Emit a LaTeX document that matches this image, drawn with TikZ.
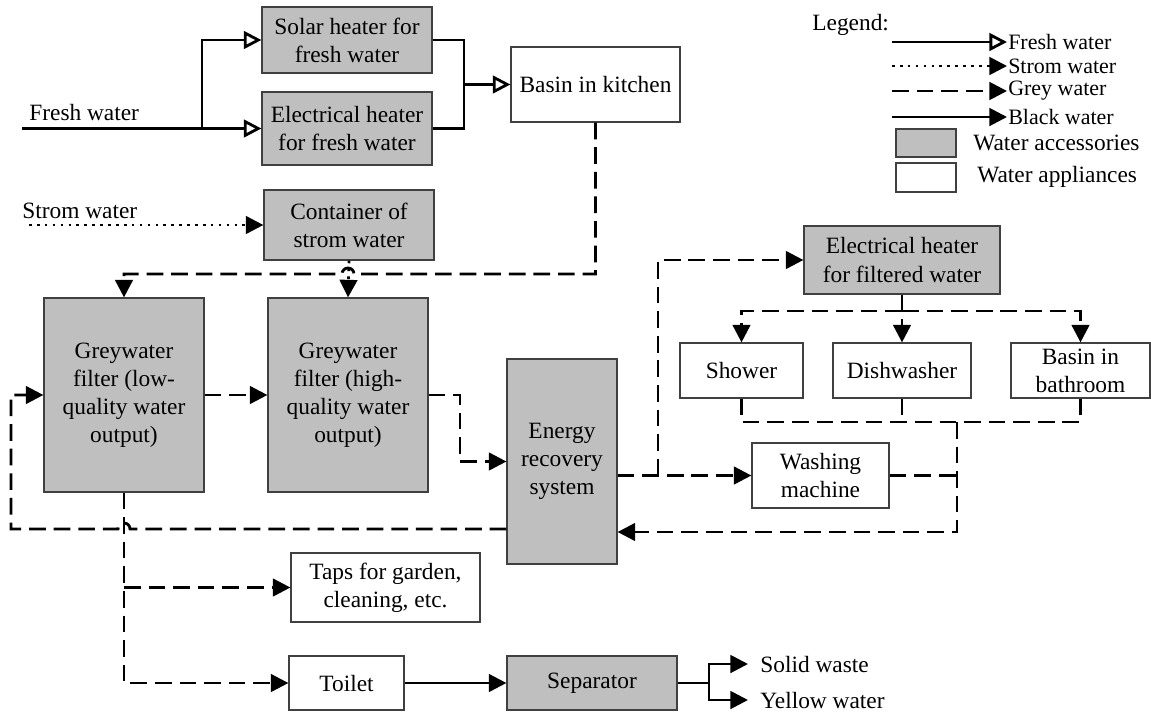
\documentclass[tikz,border=0pt]{standalone}
\usepackage{fontspec}
\setmainfont{Liberation Serif}
\usetikzlibrary{arrows.meta}

\tikzset{
    accessory/.style={draw=black!75, line width=0.7pt, fill=black!25, inner sep=0pt, align=center},
    appliance/.style={draw=black!75, line width=0.7pt, fill=white, inner sep=0pt, align=center},
    pipe/.style={line width=1.6pt},
    freshline/.style={pipe, -{Triangle[open, length=10pt, width=10pt]}},
    stormline/.style={pipe, dash pattern=on 1.5pt off 3pt, -{Triangle[length=10pt, width=10pt]}},
    greypipe/.style={pipe, dash pattern=on 9.5pt off 4.5pt},
    greyline/.style={greypipe, -{Triangle[length=10pt, width=10pt]}},
    blackpipe/.style={pipe},
    blackline/.style={pipe, -{Triangle[length=10pt, width=10pt]}},
    legendtext/.style={anchor=west, inner xsep=0.5pt, inner ysep=0pt, font=\fontsize{12.5}{14}\selectfont}
}

\begin{document}
\begin{tikzpicture}[x=0.02cm, y=-0.02cm, every node/.style={font=\fontsize{13.3}{16}\selectfont}]
    \useasboundingbox (0,0) rectangle (1151,714);

    % fresh water part
    \node[accessory, minimum width=3.4cm, minimum height=1.32cm] (solar) at (347,40) {Solar heater for\\fresh water};
    \node[accessory, minimum width=3.4cm, minimum height=1.46cm] (freshheater) at (347,128.5) {Electrical heater\\for fresh water};
    \node[appliance, minimum width=3.38cm, minimum height=1.5cm] (kitchen) at (595.5,84.5) {Basin in kitchen};
    \node[anchor=base west, inner sep=0pt] (freshlabel) at (29,120) {Fresh water};
    \coordinate (freshin) at (22,128.5);
    \coordinate (split) at (202,128.5);
    \coordinate (joinfresh) at (464,84.5);
    \draw[freshline] (freshin) -- (freshheater.west);
    \draw[freshline] (split) |- (solar.west);
    \draw[blackpipe] (solar.east) -| (joinfresh) |- (freshheater.east);
    \draw[freshline] (joinfresh) -- (kitchen.west);

    % storm water
    \node[accessory, minimum width=3.4cm, minimum height=1.4cm] (container) at (349,225) {Container of\\strom water};
    \node[anchor=base west, inner sep=0pt] (stormlabel) at (22,218) {Strom water};
    \coordinate (stormin) at (29,225);
    \draw[stormline] (stormin) -- (container.west);

    % filters and energy recovery
    \node[accessory, minimum width=3.2cm, minimum height=3.88cm] (filterlow) at (124,395) {Greywater\\filter (low-\\quality water\\output)};
    \node[accessory, minimum width=3.2cm, minimum height=3.88cm] (filterhigh) at (348,395) {Greywater\\filter (high-\\quality water\\output)};
    \node[accessory, minimum width=2.2cm, minimum height=4.1cm] (energy) at (562,461.5) {Energy\\recovery\\system};
    \draw[stormline] (container.south) -- (filterhigh.north);
    \draw[greyline] (kitchen.south) |- (354,274) arc[start angle=0, end angle=180, radius=0.12cm] -| (filterlow.north);
    \draw[greyline] (filterlow.east) -- (filterhigh.west);
    \draw[greyline] (filterhigh.east) -- (460,395) |- (energy.west);
    \draw[greyline] (energy.west |- 0,529) -- (130,529) arc[start angle=0, end angle=180, radius=0.12cm] -- (11,529) |- (filterlow.west);

    % appliances on the right
    \node[accessory, minimum width=3.92cm, minimum height=1.36cm] (filteredheater) at (902,260) {Electrical heater\\for filtered water};
    \node[appliance, minimum width=2.46cm, minimum height=1.1cm] (shower) at (741.5,370.5) {Shower};
    \node[appliance, minimum width=2.76cm, minimum height=1.1cm] (dishwasher) at (902,370.5) {Dishwasher};
    \node[appliance, minimum width=2.78cm, minimum height=1.1cm] (bathbasin) at (1080.5,370.5) {Basin in\\bathroom};
    \node[appliance, minimum width=2.74cm, minimum height=1.3cm] (washing) at (820.5,475.5) {Washing\\machine};
    \coordinate (toheater) at (658,475.5);
    \coordinate (collect) at (957,422);
    \draw[greyline] (energy.east |- washing.west) -- (washing.west);
    \draw[greyline] (toheater) |- (filteredheater.west);
    \draw[greyline] (filteredheater.south) -- (dishwasher.north);
    \draw[greyline] (dishwasher.north |- 0,311) -| (shower.north);
    \draw[greyline] (dishwasher.north |- 0,311) -| (bathbasin.north);
    \draw[greypipe] (shower.south) |- (bathbasin.south |- 0,422) -- (bathbasin.south);
    \draw[greypipe] (dishwasher.south) -- (dishwasher.south |- 0,422);
    \draw[greypipe] (washing.east) -- (washing.east -| collect);
    \draw[greyline] (collect) |- (energy.east |- 0,532);

    % taps, toilet and separator
    \node[appliance, minimum width=3.78cm, minimum height=1.38cm] (taps) at (385.5,587.5) {Taps for garden,\\cleaning, etc.};
    \node[appliance, minimum width=2.3cm, minimum height=1.08cm] (toilet) at (346.5,683) {Toilet};
    \node[accessory, minimum width=3.4cm, minimum height=1.08cm] (separator) at (592,683) {Separator};
    \node[anchor=west, inner xsep=0.24cm, inner ysep=0pt] (solid) at (748,664) {Solid waste};
    \node[anchor=west, inner xsep=0.24cm, inner ysep=0pt] (yellow) at (748,700) {Yellow water};
    \coordinate (sepsplit) at (709,683);
    \draw[greyline] (filterlow.south) |- (toilet.west);
    \draw[greyline] (filterlow.south |- taps.west) -- (taps.west);
    \draw[blackline] (toilet.east) -- (separator.west);
    \draw[blackpipe] (separator.east) -- (sepsplit);
    \draw[blackline] (sepsplit) |- (solid.west);
    \draw[blackline] (sepsplit) |- (yellow.west);

    % legend
    \node[anchor=base west, inner sep=0pt] (legendtitle) at (812,30) {Legend:};
    \foreach \y/\kind/\name in {42/freshline/Fresh water, 66/stormline/Strom water, 91/greyline/Grey water, 117/blackline/Black water}
        {\coordinate (lgstart\y) at (892,\y);
        \node[legendtext] (lgtext\y) at (1007,\y) {\name};
        \draw[\kind] (lgstart\y) -- (lgtext\y.west);}
    \node[accessory, minimum width=1.2cm, minimum height=0.56cm] (lgacc) at (926,143) {};
    \node[appliance, minimum width=1.2cm, minimum height=0.58cm] (lgapp) at (926,177.5) {};
    \node[anchor=west, inner sep=0pt] (lgacctext) at (973,143) {Water accessories};
    \node[anchor=west, inner sep=0pt] (lgapptext) at (977,177) {Water appliances};
\end{tikzpicture}
\end{document}
